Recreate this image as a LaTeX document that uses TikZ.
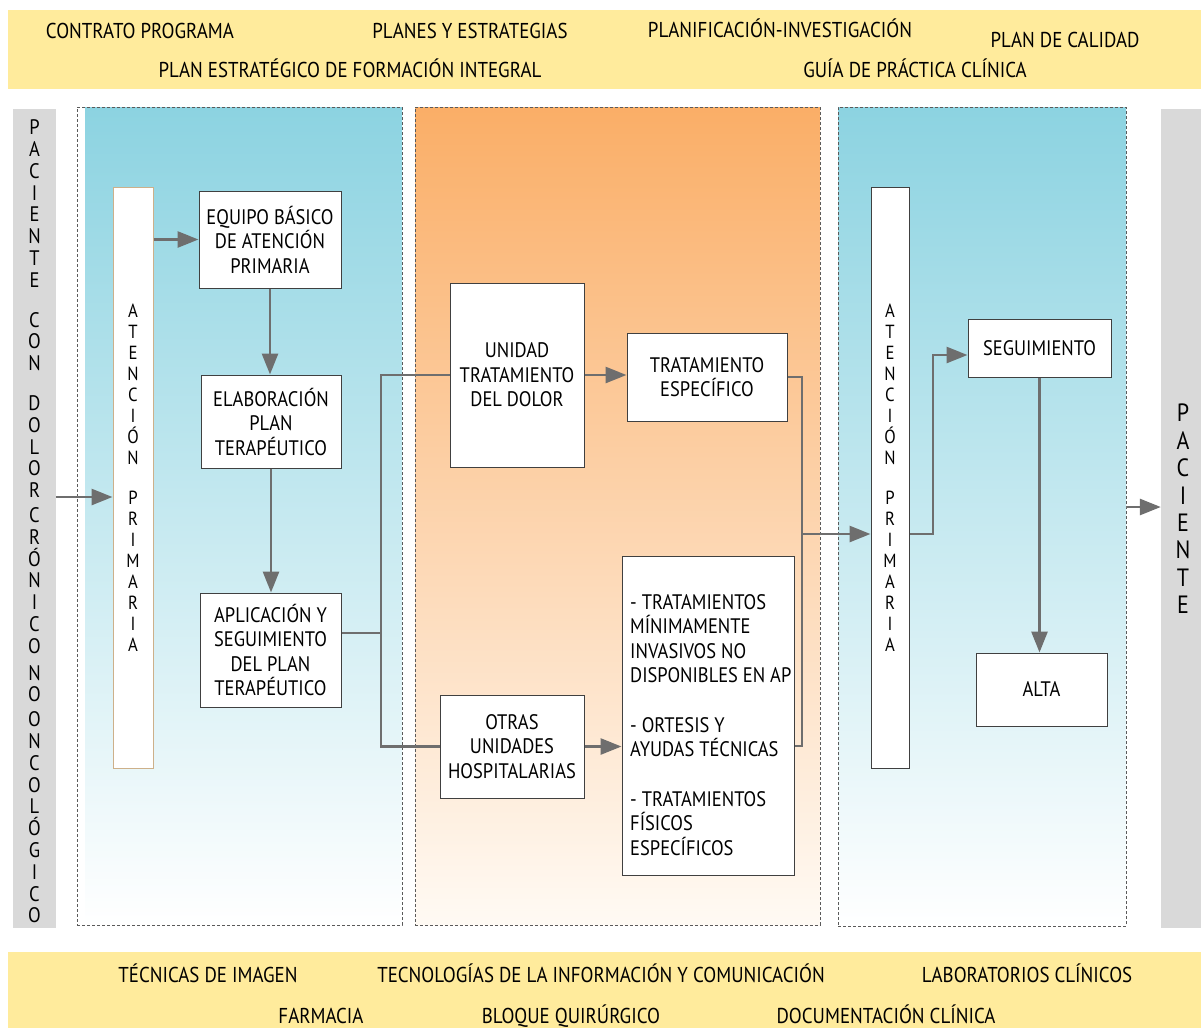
\documentclass[tikz,border=0pt]{standalone}
\usepackage{fontspec}
\setmainfont[FakeStretch=0.88]{PT Sans}
\usetikzlibrary{arrows.meta}
\definecolor{bandyellow}{HTML}{FFEB9C}
\definecolor{barGray}{HTML}{D9D9D9}
\definecolor{blueTop}{HTML}{8CD3E1}
\definecolor{orangeTop}{HTML}{FAAE67}
\definecolor{orangeBot}{HTML}{FFFAF4}
\definecolor{lineGray}{HTML}{6E6E6E}
\definecolor{boxLine}{HTML}{404040}
\definecolor{tanLine}{HTML}{CDB08A}
\definecolor{dashGray}{HTML}{5A5A5A}
\newcommand\fsBox{\fontsize{21}{24.5}\selectfont}
\newcommand\fsBand{\fontsize{21.5}{24}\selectfont}
\newcommand\fsVL{\fontsize{21}{21.8}\selectfont}
\newcommand\fsAP{\fontsize{19}{21}\selectfont}
\newcommand\fsVR{\fontsize{25}{27.4}\selectfont}
\begin{document}
\begin{tikzpicture}[x=1pt,y=-1pt,
  every node/.style={inner sep=0pt},
  bandtxt/.style={font=\fsBand, text height=14pt, text depth=0pt},
  box/.style={draw=boxLine, line width=1pt, fill=white, align=center, font=\fsBox},
  apbox/.style={draw=boxLine, line width=1pt, fill=white, align=center, font=\fsAP,
                minimum width=#1, minimum height=581pt},
  panel/.style={draw=dashGray, dash pattern=on 3pt off 2pt, line width=0.7pt},
  conn/.style={draw=lineGray, line width=2.8pt},
  arr/.style={draw=lineGray, line width=2.8pt, -{Triangle[length=21pt,width=16pt]}},
  vtxt/.style={align=center}
]
\useasboundingbox (0,0) rectangle (1201,1028);

% top band
\fill[bandyellow] (8,10) rectangle (1201,89);
\node[bandtxt] (tcp) at (140,31) {CONTRATO PROGRAMA};
\node[bandtxt] (tpe) at (470,31) {PLANES Y ESTRATEGIAS};
\node[bandtxt] (tpi) at (780,30) {PLANIFICACIÓN-INVESTIGACIÓN};
\node[bandtxt] (tpc) at (1065,40) {PLAN DE CALIDAD};
\node[bandtxt] (tpf) at (350,70) {PLAN ESTRATÉGICO DE FORMACIÓN INTEGRAL};
\node[bandtxt] (tgp) at (915,70) {GUÍA DE PRÁCTICA CLÍNICA};

% bottom band
\fill[bandyellow] (8,952) rectangle (1201,1028);
\node[bandtxt] (bti) at (208,975) {TÉCNICAS DE IMAGEN};
\node[bandtxt] (btc) at (601,975) {TECNOLOGÍAS DE LA INFORMACIÓN Y COMUNICACIÓN};
\node[bandtxt] (blc) at (1027,975) {LABORATORIOS CLÍNICOS};
\node[bandtxt] (bfa) at (321,1016) {FARMACIA};
\node[bandtxt] (bbq) at (571,1016) {BLOQUE QUIRÚRGICO};
\node[bandtxt] (bdc) at (886,1016) {DOCUMENTACIÓN CLÍNICA};

% panels
\shade[top color=blueTop, bottom color=white] (85,107) rectangle (402,925);
\node[panel, minimum width=325pt, minimum height=818pt] (p1) at (239.5,516) {};
\shade[top color=orangeTop, bottom color=orangeBot] (415,107) rectangle (820,925);
\node[panel, minimum width=405pt, minimum height=818pt] (p2) at (617.5,516) {};
\shade[top color=blueTop, bottom color=white] (838,107) rectangle (1126,926);
\node[panel, minimum width=288pt, minimum height=819pt] (p3) at (982,516.5) {};

% gray side bars
\node[fill=barGray, minimum width=43pt, minimum height=819pt] (lb) at (34.5,518.5) {};
\node[vtxt, font=\fsVL] (lbt) at (34.5,521.5)
 {P\\A\\C\\I\\E\\N\\T\\E\\[18pt]C\\O\\N\\[18pt]D\\O\\L\\O\\R\\[3pt]C\\R\\Ó\\N\\I\\C\\O\\[5pt]N\\O\\[3pt]O\\N\\C\\O\\L\\Ó\\G\\I\\C\\O};
\node[fill=barGray, minimum width=40pt, minimum height=819pt] (rb) at (1181,518.5) {};
\node[vtxt, font=\fsVR] (rbt) at (1183,509) {P\\A\\C\\I\\E\\N\\T\\E};

% atención primaria columns
\node[apbox=40pt, draw=tanLine] (ap1) at (133,477.5)
 {A\\T\\E\\N\\C\\I\\Ó\\N\\[19pt]P\\R\\I\\M\\A\\R\\I\\A};
\node[apbox=38pt] (ap2) at (890,477.5)
 {A\\T\\E\\N\\C\\I\\Ó\\N\\[19pt]P\\R\\I\\M\\A\\R\\I\\A};

% boxes
\node[box, minimum width=142pt, minimum height=97pt] (eq) at (270,239.5) {EQUIPO BÁSICO\\DE ATENCIÓN\\PRIMARIA};
\node[box, minimum width=140pt, minimum height=93pt] (elab) at (271,421.5) {ELABORACIÓN\\PLAN\\TERAPÉUTICO};
\node[box, minimum width=141pt, minimum height=114pt] (apl) at (270.5,650) {APLICACIÓN Y\\SEGUIMIENTO\\DEL PLAN\\TERAPÉUTICO};
\node[box, minimum width=134pt, minimum height=184pt] (utd) at (517,375) {UNIDAD\\TRATAMIENTO\\DEL DOLOR};
\node[box, minimum width=160pt, minimum height=88pt] (te) at (707,377) {TRATAMIENTO\\ESPECÍFICO};
\node[box, minimum width=144pt, minimum height=103pt] (otras) at (512,746.5) {OTRAS\\UNIDADES\\HOSPITALARIAS};
\node[box, minimum width=172pt, minimum height=319pt] (list) at (708,715.5) {};
\node[font=\fsBox, align=left, anchor=north west] (listtxt) at (630,594)
 {- TRATAMIENTOS\\MÍNIMAMENTE\\INVASIVOS NO\\DISPONIBLES EN AP\\[25pt]- ORTESIS Y\\AYUDAS TÉCNICAS\\[25pt]- TRATAMIENTOS\\FÍSICOS\\ESPECÍFICOS};
\node[box, minimum width=143pt, minimum height=58pt] (seg) at (1039.5,348) {SEGUIMIENTO};
\node[box, minimum width=131pt, minimum height=73pt] (alta) at (1041.5,689.5) {ALTA};

% connectors
\coordinate (jA) at (381,633);
\coordinate (jB) at (802,746);
\coordinate (jC) at (802,534);
\coordinate (jD) at (933,355);
\draw[arr] (lb.east |- 0,497) -- (ap1.west |- 0,497);
\draw[arr] (ap1.east |- eq.west) -- (eq.west);
\draw[arr] (eq.south) -- (eq.south |- elab.north);
\draw[arr] (elab.south) -- (elab.south |- apl.north);
\draw[conn] (apl.east |- jA) -- (jA);
\draw[conn] (jA) |- (utd.west);
\draw[conn] (jA) |- (otras.west);
\draw[arr] (utd.east) -- (te.west |- utd.east);
\draw[arr] (otras.east) -- (list.west |- otras.east);
\draw[conn] (te.east) -| (jB) -- (list.east |- jB);
\draw[arr] (jC) -- (ap2.west |- jC);
\draw[arr] (ap2.east |- jC) -| (jD) -- (seg.west |- jD);
\draw[arr] (seg.south) -- (seg.south |- alta.north);
\draw[arr] (p3.east |- 0,507) -- (rb.west |- 0,507);
\end{tikzpicture}
\end{document}
